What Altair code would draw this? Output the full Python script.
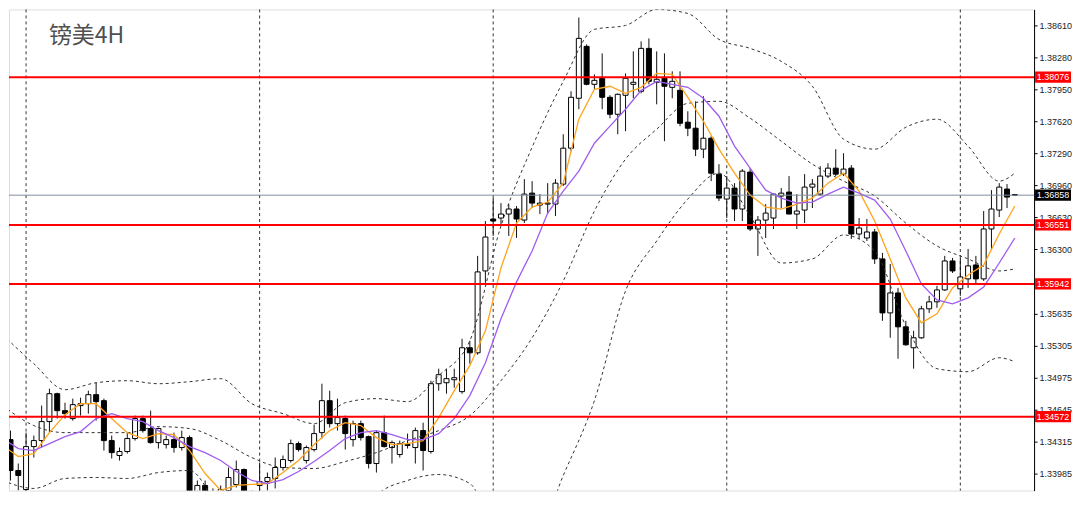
import altair as alt
import pandas as pd

TITLE = "镑美4H"

candle_index = list(range(131))
opens = [1.34088, 1.34335, 1.34016, 1.33820, 1.34263, 1.34325, 1.34521, 1.34809, 1.34634, 1.34552,
         1.34686, 1.34706, 1.34799, 1.34737, 1.34325, 1.34171, 1.34212, 1.34346, 1.34552, 1.34449,
         1.34304, 1.34284, 1.34335, 1.34253, 1.34356, 1.33717, 1.33862, 1.33738, 1.33779, 1.33810,
         1.33872, 1.34026, 1.33779, 1.33862, 1.33903, 1.33934, 1.34047, 1.34119, 1.34294, 1.34119,
         1.34232, 1.34407, 1.34737, 1.34500, 1.34552, 1.34335, 1.34500, 1.34366, 1.34088, 1.34407,
         1.34253, 1.34181, 1.34274, 1.34253, 1.34428, 1.34212, 1.34912, 1.34922, 1.34953, 1.34830,
         1.35283, 1.35231, 1.36076, 1.36612, 1.36622, 1.36663, 1.36715, 1.36601, 1.36879, 1.36756,
         1.36766, 1.36766, 1.36972, 1.37343, 1.37858, 1.38394, 1.38002, 1.38064, 1.37868, 1.37693,
         1.37889, 1.38002, 1.37930, 1.38373, 1.38023, 1.38064, 1.37971, 1.37940, 1.37611, 1.37549,
         1.37333, 1.37446, 1.37075, 1.36818, 1.36931, 1.36715, 1.37096, 1.36509, 1.36601, 1.36622,
         1.36849, 1.36890, 1.36663, 1.36704, 1.36941, 1.36869, 1.37055, 1.37137, 1.37075, 1.37137,
         1.36457, 1.36416, 1.36478, 1.36200, 1.35643, 1.35849, 1.35499, 1.35283, 1.35386, 1.35685,
         1.35757, 1.35880, 1.36179, 1.35891, 1.35994, 1.36138, 1.35994, 1.36509, 1.36704, 1.36921,
         1.36864]
highs = [1.34449, 1.34428, 1.34088, 1.34407, 1.34377, 1.34686, 1.34861, 1.34819, 1.34716, 1.34758,
         1.34768, 1.34840, 1.34922, 1.34758, 1.34377, 1.34253, 1.34407, 1.34583, 1.34583, 1.34634,
         1.34459, 1.34377, 1.34407, 1.34428, 1.34377, 1.33913, 1.33913, 1.33831, 1.33862, 1.34047,
         1.34119, 1.34037, 1.33810, 1.34098, 1.33995, 1.34150, 1.34171, 1.34335, 1.34315, 1.34274,
         1.34490, 1.34912, 1.34840, 1.34758, 1.34583, 1.34531, 1.34531, 1.34377, 1.34428, 1.34583,
         1.34325, 1.34325, 1.34397, 1.34459, 1.34510, 1.34943, 1.35067, 1.35067, 1.35067, 1.35376,
         1.35355, 1.36231, 1.36591, 1.36828, 1.36776, 1.36766, 1.36746, 1.37024, 1.37003, 1.36869,
         1.36982, 1.37024, 1.37487, 1.37930, 1.38692, 1.38414, 1.38105, 1.38321, 1.37889, 1.37909,
         1.38115, 1.38342, 1.38445, 1.38476, 1.38342, 1.38321, 1.38136, 1.38136, 1.37724, 1.37827,
         1.37879, 1.37467, 1.37178, 1.37055, 1.36982, 1.37127, 1.37137, 1.36643, 1.36766, 1.36879,
         1.36931, 1.37055, 1.36869, 1.37075, 1.37024, 1.37158, 1.37188, 1.37333, 1.37291, 1.37168,
         1.36622, 1.36612, 1.36509, 1.36261, 1.36148, 1.35901, 1.35561, 1.35458, 1.35716, 1.35819,
         1.35922, 1.36231, 1.36210, 1.36210, 1.36303, 1.36231, 1.36694, 1.36910, 1.36982, 1.36972,
         1.36869]
lows = [1.33965, 1.33913, 1.33810, 1.33779, 1.34150, 1.34253, 1.34407, 1.34552, 1.34552, 1.34531,
        1.34583, 1.34603, 1.34531, 1.34222, 1.34140, 1.34119, 1.34191, 1.34325, 1.34407, 1.34294,
        1.34243, 1.34243, 1.34201, 1.34222, 1.33656, 1.33635, 1.33759, 1.33676, 1.33748, 1.33738,
        1.33841, 1.33635, 1.33717, 1.33656, 1.33810, 1.33831, 1.34016, 1.34098, 1.34212, 1.34088,
        1.34212, 1.34346, 1.34459, 1.34428, 1.34232, 1.34263, 1.34325, 1.34037, 1.33995, 1.34253,
        1.34088, 1.34150, 1.34243, 1.34088, 1.34016, 1.34191, 1.34840, 1.34809, 1.34871, 1.34809,
        1.35118, 1.35211, 1.35952, 1.36437, 1.36540, 1.36437, 1.36416, 1.36570, 1.36725, 1.36663,
        1.36663, 1.36643, 1.36952, 1.37312, 1.37745, 1.37992, 1.37951, 1.37745, 1.37652, 1.37487,
        1.37518, 1.37858, 1.37909, 1.38002, 1.37796, 1.37415, 1.37858, 1.37570, 1.37467, 1.37261,
        1.37240, 1.37003, 1.36797, 1.36622, 1.36591, 1.36591, 1.36488, 1.36231, 1.36416, 1.36509,
        1.36725, 1.36663, 1.36509, 1.36570, 1.36725, 1.36849, 1.37034, 1.37055, 1.37055, 1.36406,
        1.36406, 1.36385, 1.36148, 1.35561, 1.35386, 1.35170, 1.35304, 1.35067, 1.35376, 1.35643,
        1.35695, 1.35870, 1.36055, 1.35819, 1.35901, 1.35942, 1.35973, 1.36303, 1.36632, 1.36725,
        1.36849]
closes = [1.34346, 1.34016, 1.33965, 1.34263, 1.34325, 1.34521, 1.34809, 1.34634, 1.34603, 1.34696,
          1.34706, 1.34799, 1.34727, 1.34325, 1.34201, 1.34212, 1.34346, 1.34552, 1.34428, 1.34304,
          1.34449, 1.34335, 1.34253, 1.34356, 1.33707, 1.33862, 1.33800, 1.33779, 1.33820, 1.33944,
          1.34026, 1.33779, 1.33738, 1.33903, 1.33944, 1.34047, 1.34129, 1.34294, 1.34232, 1.34253,
          1.34397, 1.34737, 1.34500, 1.34562, 1.34397, 1.34500, 1.34356, 1.34088, 1.34407, 1.34263,
          1.34304, 1.34294, 1.34284, 1.34428, 1.34222, 1.34912, 1.35005, 1.34964, 1.34974, 1.35283,
          1.35231, 1.36066, 1.36426, 1.36591, 1.36663, 1.36715, 1.36612, 1.36869, 1.36776, 1.36776,
          1.36776, 1.36982, 1.37343, 1.37868, 1.38476, 1.38002, 1.38043, 1.37868, 1.37693, 1.37899,
          1.38064, 1.38023, 1.38373, 1.38033, 1.38054, 1.37982, 1.38033, 1.37600, 1.37549, 1.37333,
          1.37446, 1.37085, 1.36828, 1.36931, 1.36715, 1.37106, 1.36509, 1.36601, 1.36673, 1.36869,
          1.36879, 1.36663, 1.36694, 1.36941, 1.36972, 1.37055, 1.37137, 1.37075, 1.37127, 1.36457,
          1.36519, 1.36478, 1.36200, 1.35643, 1.35849, 1.35499, 1.35314, 1.35386, 1.35685, 1.35757,
          1.35880, 1.36179, 1.36076, 1.36014, 1.36128, 1.35994, 1.36509, 1.36715, 1.36941, 1.36838,
          1.36858]

ma_index = list(range(0, 131, 2))
ma_fast = [1.34274, 1.34160, 1.34191, 1.34407, 1.34593, 1.34706, 1.34706, 1.34552, 1.34407, 1.34346,
           1.34397, 1.34387, 1.34222, 1.33985, 1.33810, 1.33862, 1.33872, 1.33882, 1.33995, 1.34119,
           1.34284, 1.34428, 1.34510, 1.34480, 1.34356, 1.34284, 1.34294, 1.34325, 1.34562, 1.34840,
           1.35098, 1.35458, 1.36107, 1.36570, 1.36735, 1.36787, 1.36982, 1.37642, 1.37951, 1.37982,
           1.37909, 1.37971, 1.38115, 1.38105, 1.37868, 1.37621, 1.37333, 1.37085, 1.36859, 1.36735,
           1.36715, 1.36766, 1.36828, 1.36982, 1.37085, 1.36900, 1.36591, 1.36200, 1.35798, 1.35540,
           1.35633, 1.35901, 1.36035, 1.36138, 1.36457, 1.36746]
ma_slow = [1.34346, 1.34243, 1.34222, 1.34294, 1.34366, 1.34418, 1.34552, 1.34603, 1.34552, 1.34521,
           1.34428, 1.34356, 1.34263, 1.34201, 1.34119, 1.34006, 1.33913, 1.33882, 1.33923, 1.34006,
           1.34109, 1.34222, 1.34346, 1.34407, 1.34428, 1.34387, 1.34335, 1.34335, 1.34397, 1.34552,
           1.34789, 1.35128, 1.35582, 1.35963, 1.36282, 1.36673, 1.36900, 1.37106, 1.37394, 1.37570,
           1.37745, 1.37940, 1.38033, 1.38002, 1.37971, 1.37858, 1.37673, 1.37364, 1.37137, 1.36910,
           1.36828, 1.36776, 1.36787, 1.36869, 1.36941, 1.36879, 1.36807, 1.36612, 1.36282, 1.35942,
           1.35777, 1.35736, 1.35798, 1.35911, 1.36158, 1.36416]

band_index = list(range(0, 129, 4)) + [130]
band_upper = [1.35417, 1.35118, 1.34850, 1.34922, 1.34943, 1.34912, 1.34933, 1.34964, 1.34706, 1.34603,
              1.34500, 1.34716, 1.34758, 1.34727, 1.34995, 1.35355, 1.36540, 1.37353, 1.38033, 1.38569,
              1.38610, 1.38775, 1.38733, 1.38466, 1.38373, 1.38239, 1.37982, 1.37436, 1.37333, 1.37559,
              1.37642, 1.37364, 1.37003, 1.37085]
band_middle = [1.34686, 1.34480, 1.34407, 1.34407, 1.34407, 1.34469, 1.34449, 1.34325, 1.34150, 1.34047,
               1.34037, 1.34109, 1.34201, 1.34325, 1.34428, 1.34583, 1.34943, 1.35386, 1.35973, 1.36694,
               1.37230, 1.37539, 1.37806, 1.37827, 1.37652, 1.37415, 1.37178, 1.37003, 1.36849, 1.36570,
               1.36334, 1.36200, 1.36076, 1.36097]
band_lower = [1.33913, 1.33831, 1.33934, 1.33944, 1.33934, 1.33995, 1.34016, 1.33604, 1.33295, 1.33192,
              1.33192, 1.33295, 1.33759, 1.33913, 1.33975, 1.33882, 1.33295, 1.33244, 1.33965, 1.34737,
              1.35870, 1.36385, 1.36818, 1.37085, 1.36643, 1.36158, 1.36200, 1.36447, 1.36282, 1.35510,
              1.35067, 1.35036, 1.35180, 1.35139]

separator_index = [3, 33, 63, 93, 123]
level_prices = [1.38076, 1.36551, 1.35942, 1.34572]
level_labels = ["1.38076", "1.36551", "1.35942", "1.34572"]
last_price = [1.36858]
last_label = ["1.36858"]
axis_ticks = [1.3861, 1.3828, 1.3795, 1.3762, 1.3729, 1.3696, 1.3663, 1.3630,
              1.35635, 1.35305, 1.34975, 1.34645, 1.34315, 1.33985]

# ---------------------------------------------------------------
W, H = 1027, 482
xs = alt.Scale(domain=[0.8077, 132.474], nice=False, zero=False, padding=0)
ys = alt.Scale(domain=[1.338093, 1.387748], nice=False, zero=False, padding=0)
FONT = "Liberation Sans"
LABEL_X = 1046   # centre of the price boxes, right of the plot

YAXIS = alt.Axis(orient="right", values=axis_ticks, format=".5f", grid=False, title=None,
                 labelFont=FONT, labelFontSize=9, labelColor="#222",
                 tickColor="#000", domainColor="#000", tickSize=3, domainWidth=1,
                 labelPadding=2, labelOverlap=False, labelFlush=False)

candles = pd.DataFrame({"i": candle_index, "open": opens, "high": highs,
                        "low": lows, "close": closes})
ma_df = pd.DataFrame({"i": ma_index, "fast": ma_fast, "slow": ma_slow})
band_df = pd.DataFrame({"i": band_index, "upper": band_upper,
                        "middle": band_middle, "lower": band_lower})
sep_df = pd.DataFrame({"i": separator_index})
lvl_df = pd.DataFrame({"p": level_prices, "t": level_labels})
last_df = pd.DataFrame({"p": last_price, "t": last_label})


def X(f):
    return alt.X(f, type="quantitative", scale=xs, axis=None)


def Y(f):
    return alt.Y(f, type="quantitative", scale=ys, axis=YAXIS)


seps = alt.Chart(sep_df).mark_rule(color="#333", strokeWidth=1, strokeDash=[3, 3]).encode(
    x=X("i"))

wicks = alt.Chart(candles).mark_rule(color="#111", strokeWidth=1, clip=True).encode(
    x=X("i"), y=Y("low"), y2="high:Q")

bodies = alt.Chart(candles).mark_bar(width=5, stroke="#000", strokeWidth=1, clip=True).encode(
    x=X("i"), y=Y("open"), y2="close:Q",
    fill=alt.condition("datum.close >= datum.open", alt.value("white"), alt.value("black")))

band_layers = []
for col in ["upper", "middle", "lower"]:
    band_layers.append(
        alt.Chart(band_df).mark_line(color="#333", strokeWidth=1, strokeDash=[3, 3],
                                     clip=True, interpolate="monotone").encode(
            x=X("i"), y=Y(col)))

fast = alt.Chart(ma_df).mark_line(color="#ffa31a", strokeWidth=1.3, clip=True).encode(
    x=X("i"), y=Y("fast"))
slow = alt.Chart(ma_df).mark_line(color="#a05cf0", strokeWidth=1.3, clip=True).encode(
    x=X("i"), y=Y("slow"))

last_line = alt.Chart(last_df).mark_rule(color="#7d8fa0", strokeWidth=1).encode(y=Y("p"))
level_lines = alt.Chart(lvl_df).mark_rule(color="#ff0000", strokeWidth=2).encode(y=Y("p"))

BOX = "M-1,-0.31 L1,-0.31 L1,0.31 L-1,0.31 Z"
level_box = alt.Chart(lvl_df).mark_point(shape=BOX, size=1296, filled=True, color="#ff0000",
                                         opacity=1).encode(x=alt.value(LABEL_X), y=Y("p"))
level_txt = alt.Chart(lvl_df).mark_text(color="white", font=FONT, fontSize=9,
                                        align="center", baseline="middle").encode(
    x=alt.value(LABEL_X), y=Y("p"), text="t:N")
last_box = alt.Chart(last_df).mark_point(shape=BOX, size=1296, filled=True, color="#000",
                                         opacity=1).encode(x=alt.value(LABEL_X), y=Y("p"))
last_txt = alt.Chart(last_df).mark_text(color="white", font=FONT, fontSize=9,
                                        align="center", baseline="middle").encode(
    x=alt.value(LABEL_X), y=Y("p"), text="t:N")

title = alt.Chart(pd.DataFrame({"t": [TITLE]})).mark_text(
    font="Noto Sans CJK SC", fontSize=23, color="#505050", align="left",
    baseline="middle").encode(x=alt.value(40), y=alt.value(27), text="t:N")

chart = alt.layer(
    seps, wicks, bodies, *band_layers, fast, slow, last_line, level_lines,
    last_box, last_txt, level_box, level_txt, title
).properties(
    width=W, height=H, padding={"left": 0, "top": 0, "right": 0, "bottom": 0}
).configure_view(strokeWidth=0, stroke="transparent").configure(background="white")

chart.save("out.html", embed_options={"renderer": "svg", "actions": False})
